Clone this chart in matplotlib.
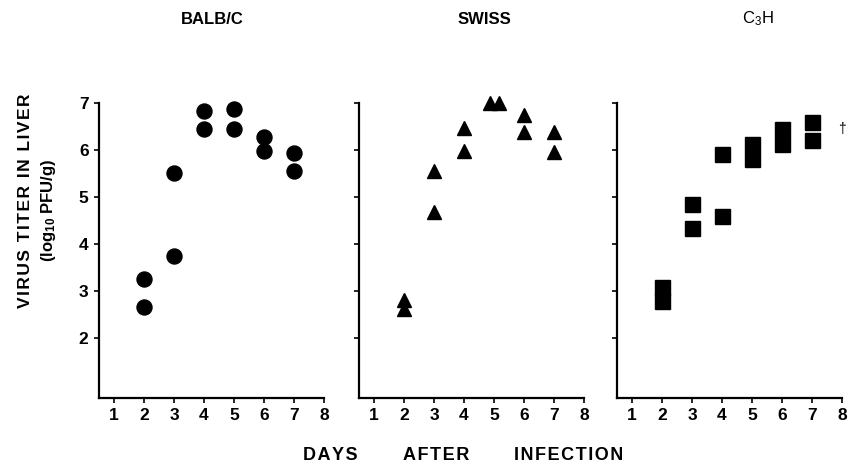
import matplotlib
matplotlib.use("Agg")
import matplotlib.pyplot as plt

plt.rcParams['font.family'] = ['Liberation Sans', 'DejaVu Sans']
plt.rcParams['mathtext.default'] = 'regular'

# days after infection / log10 titers
days_balb = [2, 2, 3, 3, 4, 4, 5, 5, 6, 6, 7, 7]
titer_balb = [3.26, 2.66, 5.51, 3.75, 6.83, 6.44, 6.87, 6.44, 6.28, 5.97, 5.93, 5.54]

days_swiss = [2, 2, 3, 3, 4, 4, 4.86, 5.18, 6, 6, 7, 7]
titer_swiss = [2.80, 2.62, 5.55, 4.68, 6.47, 5.97, 7.0, 7.0, 6.74, 6.38, 6.38, 5.95]

days_c3h = [2, 2, 3, 3, 4, 4, 5, 5, 6, 6, 7, 7]
titer_c3h = [3.08, 2.78, 4.85, 4.33, 5.90, 4.60, 6.13, 5.80, 6.45, 6.12, 6.60, 6.20]

strains = ['BALB/C', 'SWISS', r'C$_3$H']
day_ticks = [1, 2, 3, 4, 5, 6, 7, 8]
titer_ticks = [2, 3, 4, 5, 6, 7]


def spaced(s):
    # crude letter spacing with hair spaces
    return '\u200a'.join(s)


fig = plt.figure(figsize=(8.49, 4.70), dpi=100)

lefts = [99 / 849, 359 / 849, 617 / 849]
bottom = 72 / 470
height = 307 / 470
width = 231 / 849

panels = [
    (days_balb, titer_balb, 'o', 10.8),
    (days_swiss, titer_swiss, '^', 10.0),
    (days_c3h, titer_c3h, 's', 10.8),
]

axes = []
for i, (x, y, m, ms) in enumerate(panels):
    ax = fig.add_axes([lefts[i], bottom, width, height])
    ax.plot(x, y, linestyle='none', marker=m, markersize=ms,
            color='black', clip_on=False)
    ax.set_xlim(0.5, 8.2)
    ax.set_ylim(0.72, 7.25)
    ax.spines['top'].set_visible(False)
    ax.spines['right'].set_visible(False)
    ax.spines['left'].set_bounds(0.72, 7)
    ax.spines['bottom'].set_bounds(0.5, 8)
    for s in ['left', 'bottom']:
        ax.spines[s].set_linewidth(1.6)
    ax.set_xticks(day_ticks)
    ax.set_yticks(titer_ticks)
    ax.tick_params(direction='out', length=3.5, width=1.2, labelsize=12.5, pad=4)
    for lab in ax.get_xticklabels():
        lab.set_fontweight('bold')
    if i == 0:
        for lab in ax.get_yticklabels():
            lab.set_fontweight('bold')
    else:
        ax.set_yticklabels([])
    axes.append(ax)

axes[2].text(8.0, 6.45, '\u2020', fontsize=10, ha='center', va='center')

title_x = [212, 484, 758]
weights = ['bold', 'bold', 'normal']
for t, xc, w in zip(strains, title_x, weights):
    fig.text(xc / 849, 1 - 19 / 470, t, ha='center', va='center',
             fontsize=12, fontweight=w)

fig.text(26 / 849, 1 - 201 / 470, spaced('VIRUS TITER IN LIVER'), rotation=90,
         ha='center', va='center', fontsize=12.5, fontweight='bold')
fig.text(48 / 849, 1 - 210 / 470, r'(log$_{10}$ PFU/g)', rotation=90,
         ha='center', va='center', fontsize=12, fontweight='bold')

for word, xc in [('DAYS', 330), ('AFTER', 436), ('INFECTION', 569)]:
    fig.text(xc / 849, 1 - 455 / 470, spaced(word),
             ha='center', va='center', fontsize=13, fontweight='bold')

fig.savefig('out.png', dpi=100)
